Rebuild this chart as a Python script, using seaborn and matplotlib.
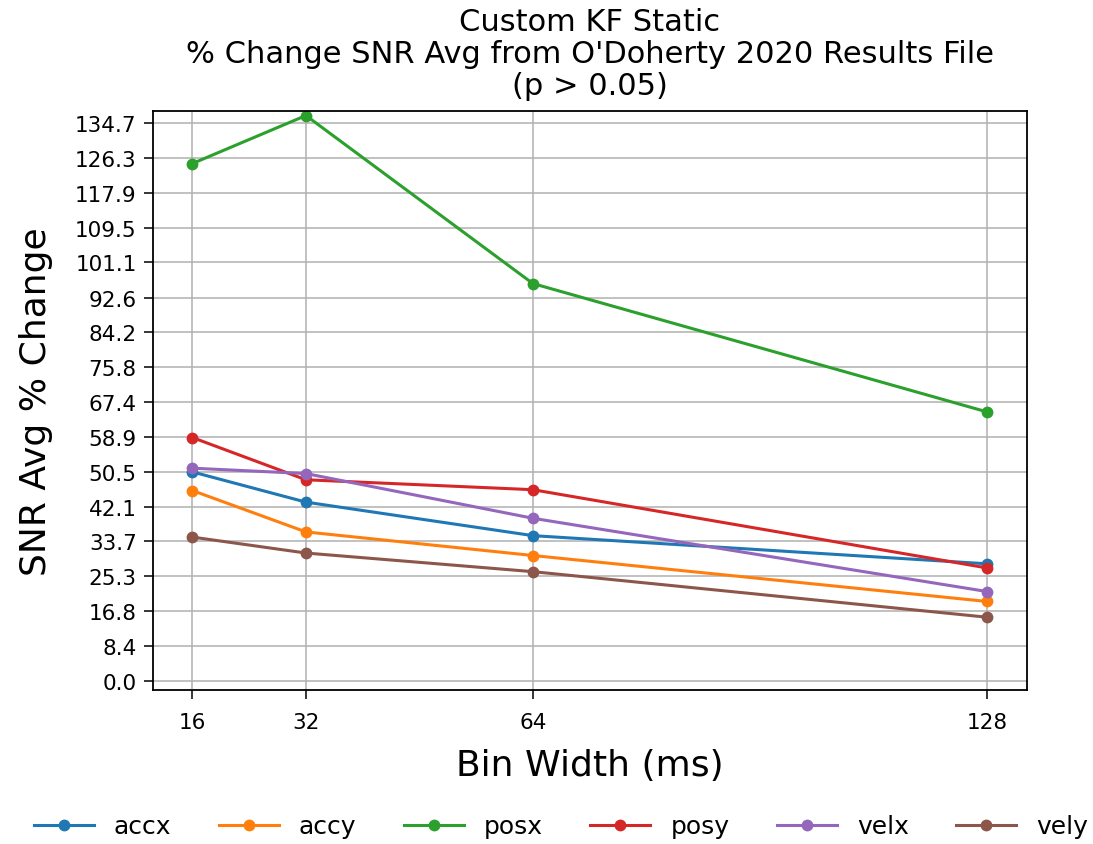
import numpy as np
import pandas as pd
import matplotlib
matplotlib.use("Agg")
import matplotlib.pyplot as plt
import seaborn as sns

bin_widths = [16, 32, 64, 128]
accx = [50.5, 43.2, 35.1, 28.3]
accy = [46.0, 36.0, 30.3, 19.2]
posx = [125.0, 136.6, 96.0, 65.0]
posy = [58.8, 48.6, 46.2, 27.3]
velx = [51.4, 50.1, 39.3, 21.6]
vely = [34.75, 30.9, 26.4, 15.4]
series_names = ["accx", "accy", "posx", "posy", "velx", "vely"]
ytick_values = [0.0, 8.4, 16.8, 25.3, 33.7, 42.1, 50.5, 58.9, 67.4, 75.8,
                84.2, 92.6, 101.1, 109.5, 117.9, 126.3, 134.7]

series = dict(zip(series_names, [accx, accy, posx, posy, velx, vely]))
df = pd.DataFrame([
    {"Bin Width": b, "value": v, "state": name}
    for name in series_names for b, v in zip(bin_widths, series[name])
])

fig = plt.figure(figsize=(10.93, 8.45), dpi=100)
ax = fig.add_axes([0.1397, 0.1822, 0.7996, 0.6853])
palette = sns.color_palette("tab10", 6)
sns.lineplot(data=df, x="Bin Width", y="value", hue="state", hue_order=series_names,
             palette=palette, marker="o", markersize=8.5, markeredgewidth=0,
             linewidth=2.2, ax=ax)
ax.set_xticks(bin_widths)
ax.set_xticklabels([str(b) for b in bin_widths])
ax.set_yticks(ytick_values)
ax.set_yticklabels([f"{v:.1f}" for v in ytick_values])
ax.set_ylim(-2.2, 137.7)
ax.tick_params(labelsize=15.5, length=6.5, width=1.1, pad=5)
ax.tick_params(axis="x", pad=9)
for sp in ax.spines.values():
    sp.set_linewidth(1.3)
ax.grid(True, color="#b0b0b0", linewidth=1.1)
ax.set_axisbelow(True)
ax.set_xlabel("Bin Width (ms)", fontsize=26, labelpad=12)
ax.set_ylabel("SNR Avg % Change", fontsize=26, labelpad=16)
ax.set_title("Custom KF Static\n% Change SNR Avg from O'Doherty 2020 Results File\n(p > 0.05)",
             fontsize=22, linespacing=1.13, pad=12)
ax.legend(loc="center", bbox_to_anchor=(561 / 1093, 0.021),
          bbox_transform=fig.transFigure, ncol=6, frameon=False,
          fontsize=18, handlelength=2.4, handletextpad=0.8, columnspacing=1.9)
fig.savefig("out.png", dpi=100)
